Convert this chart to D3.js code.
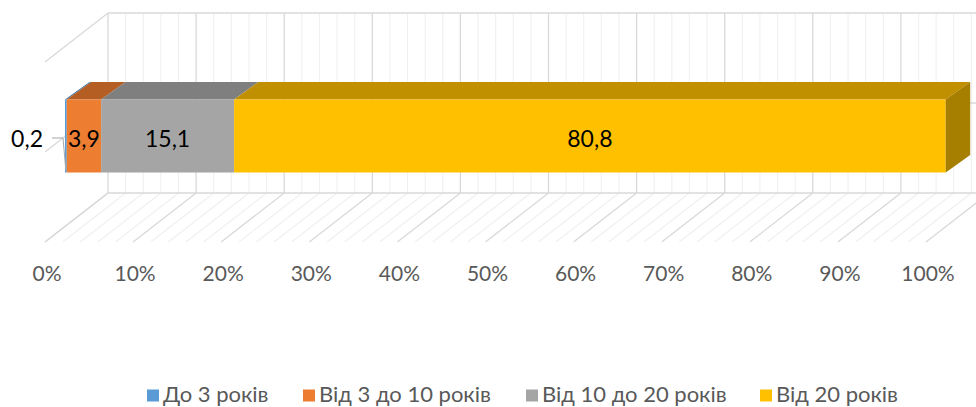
<!DOCTYPE html>
<html><head><meta charset="utf-8">
<script src="https://cdn.jsdelivr.net/npm/d3@7"></script>
<style>
body{margin:0;background:#fff;}
svg text{font-family:"Lato",sans-serif;}
</style></head>
<body><svg id="c" width="976" height="407"></svg>
<script>
const seriesNames = ["До 3 років","Від 3 до 10 років","Від 10 до 20 років","Від 20 років"];
const seriesValues = [0.2, 3.9, 15.1, 80.8];
const valueLabels = ["0,2","3,9","15,1","80,8"];
const tickValues = [0,10,20,30,40,50,60,70,80,90,100];
const tickLabels = ["0%","10%","20%","30%","40%","50%","60%","70%","80%","90%","100%"];

const frontCol = ["#5B9BD5","#ED7D31","#A5A5A5","#FFC000"];
const topCol   = ["#41719C","#B55E23","#7F7F7F","#C09000"];
const sideCol  = ["#3A6A93","#A5561F","#747474","#A67E00"];

const svg = d3.select("#c");
const xF = d3.scaleLinear().domain([0,100]).range([45,926]);   // front plane of floor
const D = {dx:63, dy:-49};             // full depth vector
const floorFrontY = 242, wallTop = 13;
const xB = v => xF(v)+D.dx;
const backBottom = floorFrontY + D.dy;

// gridlines every 2%
const grid = d3.range(0,101,2);
const gG = svg.append("g");
grid.forEach(v=>{
  const major = v%10===0;
  const c = major ? "#D9D9D9" : "#F0F0F0";
  gG.append("line").attr("x1",xB(v)).attr("x2",xB(v)).attr("y1",wallTop).attr("y2",backBottom)
    .attr("stroke",c).attr("stroke-width",major?1.3:1.1);
  gG.append("line").attr("x1",xB(v)).attr("y1",backBottom).attr("x2",xF(v)).attr("y2",floorFrontY)
    .attr("stroke",c).attr("stroke-width",major?1.3:1.1);
});
gG.append("line").attr("x1",xB(0)).attr("x2",976).attr("y1",wallTop).attr("y2",wallTop).attr("stroke","#D9D9D9").attr("stroke-width",1.3);
gG.append("line").attr("x1",xB(0)).attr("x2",976).attr("y1",backBottom).attr("y2",backBottom).attr("stroke","#D9D9D9").attr("stroke-width",1.3);
const midY = (wallTop+backBottom)/2;
gG.append("line").attr("x1",xB(0)).attr("x2",976).attr("y1",midY).attr("y2",midY).attr("stroke","#D9D9D9").attr("stroke-width",1.3);
[wallTop, midY, backBottom].forEach(y=>{
  gG.append("line").attr("x1",xB(0)).attr("y1",y).attr("x2",xF(0)).attr("y2",y-D.dy)
    .attr("stroke","#D9D9D9").attr("stroke-width",1.3);
});

// bar
const bF = d3.scaleLinear().domain([0,100]).range([65,945.7]);
const bTop = 99.5, bBot = 172.5, bd = {dx:24.5, dy:-17.5};
let cum = 0;
const segs = seriesValues.map((v,i)=>{const s={i,v,x0:cum,x1:cum+v}; cum+=v; return s;});
const gB = svg.append("g");
segs.forEach(s=>{
  const x0=bF(s.x0), x1=bF(s.x1);
  gB.append("path").attr("d",`M${x0},${bTop}L${x0+bd.dx},${bTop+bd.dy}L${x1+bd.dx},${bTop+bd.dy}L${x1},${bTop}Z`)
    .attr("fill",topCol[s.i]);
  gB.append("rect").attr("x",x0).attr("y",bTop).attr("width",x1-x0).attr("height",bBot-bTop).attr("fill",frontCol[s.i]);
});
const last = segs[segs.length-1];
{
  const x1=bF(last.x1);
  gB.append("path").attr("d",`M${x1},${bTop}L${x1+bd.dx},${bTop+bd.dy}L${x1+bd.dx},${bBot+bd.dy}L${x1},${bBot}Z`)
    .attr("fill",sideCol[last.i]);
}

// value labels
const labY = 146.5;
segs.forEach(s=>{
  if(s.i===0){
    svg.append("text").attr("x",43).attr("y",labY).attr("text-anchor","end").attr("font-size",23).attr("fill","#000").text(valueLabels[s.i]);
    svg.append("polyline").attr("points",`52,138 63,138 ${bF(s.x0+s.v/2)},${bBot-2}`).attr("fill","none").attr("stroke","#A6A6A6").attr("stroke-width",1);
  } else {
    svg.append("text").attr("x",bF((s.x0+s.x1)/2)).attr("y",labY).attr("text-anchor","middle").attr("font-size",23).attr("fill","#000").text(valueLabels[s.i]);
  }
});

// axis labels
tickValues.forEach((v,i)=>{
  svg.append("text").attr("x",xF(v)+2).attr("y",281).attr("text-anchor","middle").attr("font-size",21).attr("fill","#595959").text(tickLabels[i]);
});

// legend
const legX = [147, 303, 526, 760];
seriesNames.forEach((n,i)=>{
  svg.append("rect").attr("x",legX[i]).attr("y",389.5).attr("width",12).attr("height",12).attr("fill",frontCol[i]);
  svg.append("text").attr("x",legX[i]+16).attr("y",402).attr("font-size",22).attr("fill","#595959").text(n);
});
</script></body></html>
